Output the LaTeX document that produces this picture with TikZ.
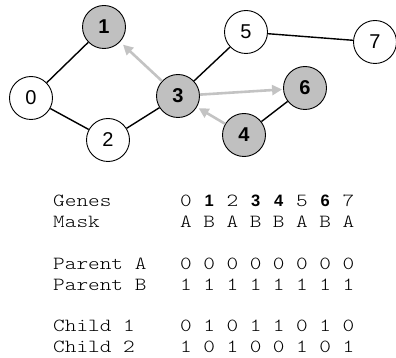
\documentclass[tikz,border=0pt]{standalone}
\usepackage{fontspec}
\setmainfont{Liberation Sans}
\newfontfamily\cour[FakeStretch=1.2]{lmmonolt10-regular.otf}
\usetikzlibrary{arrows.meta}
\definecolor{nodegray}{RGB}{192,192,192}
\definecolor{arrowgray}{RGB}{195,195,195}
\begin{document}
\begin{tikzpicture}[x=1pt,y=-1pt,
  gnode/.style={circle,draw=black,line width=0.9pt,minimum size=43pt,inner sep=0pt,fill=white,font=\fontsize{20}{22}\selectfont},
  hnode/.style={gnode,fill=nodegray,font=\fontsize{20}{22}\selectfont\bfseries},
  edge/.style={line width=1.4pt},
  move/.style={line width=2.6pt,draw=arrowgray,-{Triangle[length=10pt,width=10pt]}},
  rowlab/.style={anchor=base west,inner sep=0pt,font=\cour\fontsize{18.5}{20}\selectfont},
  cell/.style={anchor=base,inner sep=0pt,font=\cour\fontsize{18.5}{20}\selectfont},
  bcell/.style={anchor=base,inner sep=0pt,font=\fontsize{16.5}{18}\selectfont\bfseries}]
\useasboundingbox (0,0) rectangle (396,358);
% graph
\node[gnode] (n0) at (31,98) {0};
\node[hnode] (n1) at (104,27) {1};
\node[gnode] (n2) at (108,140) {2};
\node[hnode] (n3) at (178,96) {3};
\node[hnode] (n4) at (244,135) {4};
\node[gnode] (n5) at (246,32) {5};
\node[hnode] (n6) at (305,88) {6};
\node[gnode] (n7) at (375,42) {7};
\draw[edge] (n0) -- (n1);
\draw[edge] (n0) -- (n2);
\draw[edge] (n2) -- (n3);
\draw[edge] (n3) -- (n5);
\draw[edge] (n5) -- (n7);
\draw[edge] (n4) -- (n6);
\draw[move,shorten >=4pt] (n3) -- (n1);
\draw[move,shorten >=1pt] (n3) -- (n6);
\draw[move,shorten >=2pt] (n4) -- (n3);
% table
\node[rowlab] (lgenes) at (53,206.5) {Genes};
\node[rowlab] (lmask) at (53,227.5) {Mask};
\node[rowlab] (lpa) at (53,269.5) {Parent A};
\node[rowlab] (lpb) at (53,290.5) {Parent B};
\node[rowlab] (lc1) at (53,331.5) {Child 1};
\node[rowlab] (lc2) at (53,352.5) {Child 2};
\foreach \c/\st [count=\i from 0] in {0/cell,1/bcell,2/cell,3/bcell,4/bcell,5/cell,6/bcell,7/cell}
  \node[\st] (gene\i) at ({186+23.2*\i},206.5) {\c};
\foreach \c [count=\i from 0] in {A,B,A,B,B,A,B,A}
  \node[cell] (mask\i) at ({186+23.2*\i},227.5) {\c};
\foreach \c [count=\i from 0] in {0,0,0,0,0,0,0,0}
  \node[cell] (pa\i) at ({186+23.2*\i},269.5) {\c};
\foreach \c [count=\i from 0] in {1,1,1,1,1,1,1,1}
  \node[cell] (pb\i) at ({186+23.2*\i},290.5) {\c};
\foreach \c [count=\i from 0] in {0,1,0,1,1,0,1,0}
  \node[cell] (ca\i) at ({186+23.2*\i},331.5) {\c};
\foreach \c [count=\i from 0] in {1,0,1,0,0,1,0,1}
  \node[cell] (cb\i) at ({186+23.2*\i},352.5) {\c};
\end{tikzpicture}
\end{document}
